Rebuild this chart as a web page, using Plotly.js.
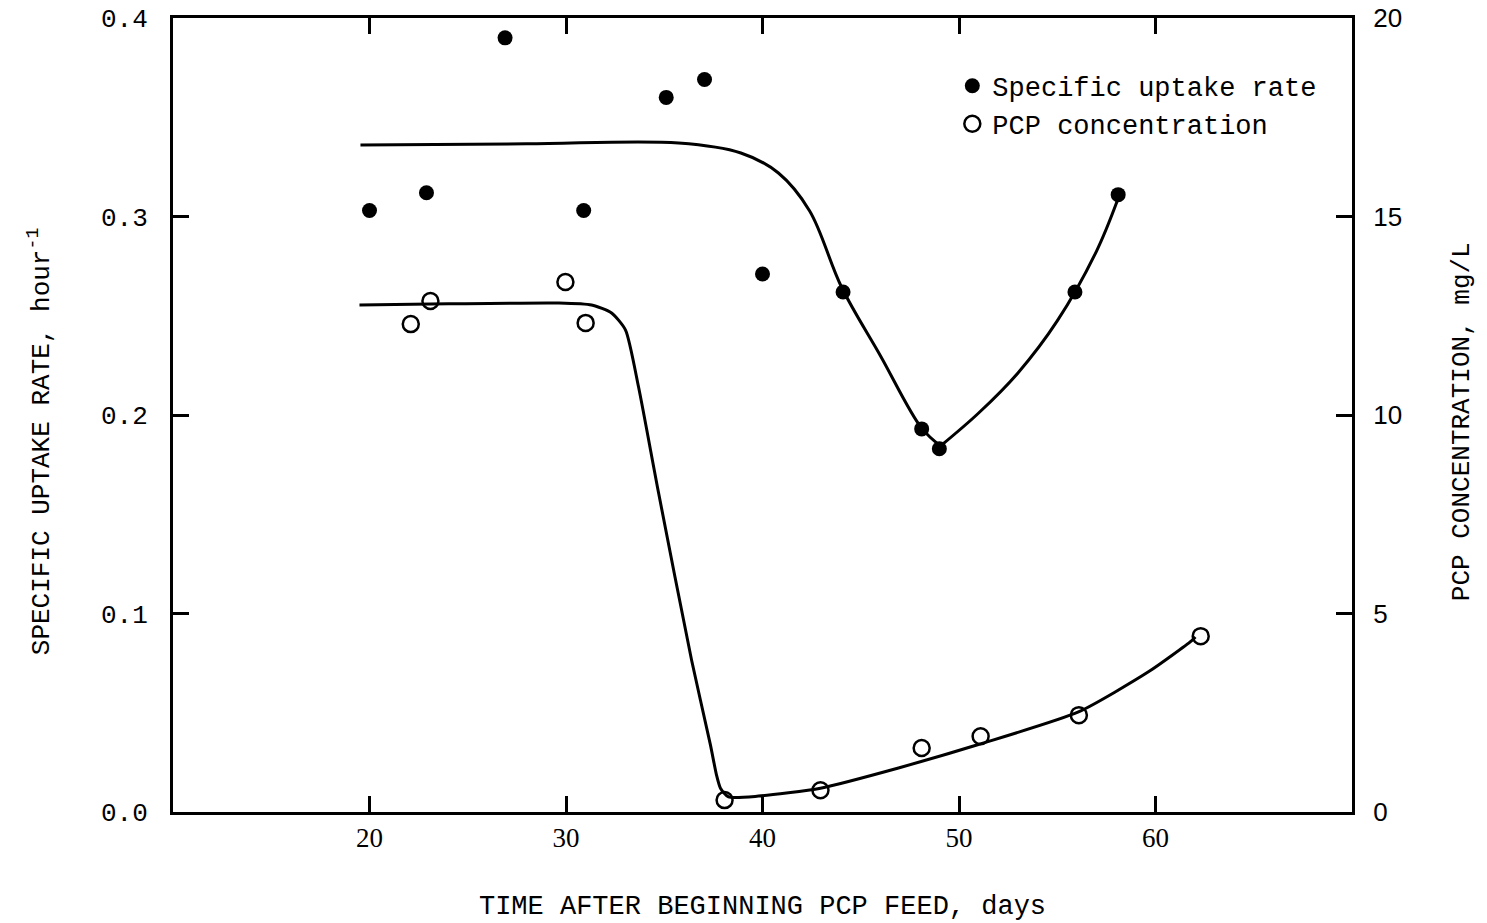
<!DOCTYPE html>
<html>
<head>
<meta charset="utf-8">
<script src="https://cdn.plot.ly/plotly-3.0.1.min.js"></script>
<style>
html, body { margin: 0; padding: 0; background: #fff; }
#chart { width: 1487px; height: 923px; }
</style>
</head>
<body>
<div id="chart"></div>
<script>
// Specific uptake rate (hour^-1), left axis
const uptakeDays = [20, 22.9, 26.9, 30.9, 35.1, 37.05, 40, 44.1, 48.1, 49.0, 55.9, 58.1];
const uptakeRate = [0.303, 0.312, 0.390, 0.303, 0.360, 0.369, 0.271, 0.262, 0.193, 0.183, 0.262, 0.311];

// PCP concentration (mg/L), right axis
const pcpDays = [22.1, 23.1, 29.97, 31.0, 38.07, 42.95, 48.1, 51.1, 56.1, 62.3];
const pcpConc = [12.29, 12.87, 13.35, 12.32, 0.30, 0.55, 1.61, 1.91, 2.44, 4.43];

// Fitted curve for uptake rate (falling part, then rising part)
const uptakeFitDays = [19.54, 28.0, 35.73, 38.9, 40.81, 42.4, 44.02, 46.0, 48.09, 49.06];
const uptakeFitRate = [0.336, 0.3366, 0.337, 0.332, 0.3219, 0.3028, 0.2645, 0.2299, 0.1935, 0.1844];
const uptakeFit2Days = [49.06, 51.0, 53.0, 55.0, 57.0, 58.07];
const uptakeFit2Rate = [0.1844, 0.2010, 0.2212, 0.2474, 0.2826, 0.3083];

// Fitted curve for PCP concentration
const pcpFitDays = [19.49, 24.02, 29.62, 31.30, 32.32, 33.03, 33.69, 34.71, 36.39, 37.35, 37.66, 37.86, 38.27, 39.80, 42.95, 46.92, 50.99, 56.08, 59.64, 61.83, 62.03];
const pcpFitConc = [12.77, 12.80, 12.82, 12.77, 12.57, 12.14, 10.71, 8.04, 3.83, 1.69, 0.93, 0.60, 0.38, 0.40, 0.60, 1.11, 1.70, 2.52, 3.53, 4.31, 4.41];

const xTicks = [20, 30, 40, 50, 60];
const yTicks = [0, 0.1, 0.2, 0.3, 0.4];
const y2Ticks = [0, 5, 10, 15, 20];

const mono = 'Liberation Mono, DejaVu Sans Mono, monospace';
const serif = 'Liberation Serif, DejaVu Serif, serif';
const sans = 'Liberation Sans, DejaVu Sans, sans-serif';

const curveLine = { color: '#000', width: 3, shape: 'spline', smoothing: 1 };

const traces = [
  { x: uptakeFitDays, y: uptakeFitRate, mode: 'lines', line: curveLine, showlegend: false, hoverinfo: 'skip' },
  { x: uptakeFit2Days, y: uptakeFit2Rate, mode: 'lines', line: curveLine, showlegend: false, hoverinfo: 'skip' },
  { x: pcpFitDays, y: pcpFitConc, yaxis: 'y2', mode: 'lines', line: { color: '#000', width: 3, shape: 'spline', smoothing: 0.6 }, showlegend: false, hoverinfo: 'skip' },
  { x: uptakeDays, y: uptakeRate, mode: 'markers', name: 'Specific uptake rate',
    marker: { symbol: 'circle', size: 15, color: '#000' } },
  { x: pcpDays, y: pcpConc, yaxis: 'y2', mode: 'markers', name: 'PCP concentration',
    marker: { symbol: 'circle-open', size: 16, color: '#000', line: { width: 2.5, color: '#000' } } }
];

const layout = {
  width: 1487, height: 923,
  paper_bgcolor: '#fff', plot_bgcolor: '#fff',
  margin: { l: 173, r: 135, t: 18, b: 111 },
  showlegend: true,
  legend: { x: 0.661, y: 0.945, xanchor: 'left', yanchor: 'top', bgcolor: 'rgba(0,0,0,0)',
            font: { family: mono, size: 27, color: '#000' }, tracegroupgap: 0, itemwidth: 30 },
  xaxis: {
    range: [10, 70], tickvals: xTicks, ticktext: xTicks.map(String),
    showgrid: false, zeroline: false, showline: true, linecolor: '#000', linewidth: 3,
    mirror: 'ticks', ticks: 'inside', ticklen: 16, tickwidth: 3, tickcolor: '#000',
    tickfont: { family: serif, size: 27, color: '#000' },
    title: { text: 'TIME AFTER BEGINNING PCP FEED, days', font: { family: mono, size: 27, color: '#000' }, standoff: 43 }
  },
  yaxis: {
    range: [0, 0.4], tickvals: yTicks, ticktext: yTicks.map(v => v.toFixed(1)),
    showgrid: false, zeroline: false, showline: true, linecolor: '#000', linewidth: 3,
    ticks: 'inside', ticklen: 16, tickwidth: 3, tickcolor: '#000',
    tickfont: { family: mono, size: 26, color: '#000' }, ticklabelstandoff: 17
  },
  yaxis2: {
    overlaying: 'y', side: 'right',
    range: [0, 20], tickvals: y2Ticks, ticktext: y2Ticks.map(String),
    showgrid: false, zeroline: false, showline: true, linecolor: '#000', linewidth: 3,
    ticks: 'inside', ticklen: 16, tickwidth: 3, tickcolor: '#000',
    tickfont: { family: sans, size: 26, color: '#000' }, ticklabelstandoff: 13
  },
  annotations: [
    { text: 'SPECIFIC UPTAKE RATE, hour<sup>-1</sup>', xref: 'paper', yref: 'paper',
      x: -0.1128, y: 0.467, xanchor: 'center', yanchor: 'middle', textangle: -90, showarrow: false,
      font: { family: mono, size: 26, color: '#000' } },
    { text: 'PCP CONCENTRATION, mg/L', xref: 'paper', yref: 'paper',
      x: 1.0933, y: 0.491, xanchor: 'center', yanchor: 'middle', textangle: -90, showarrow: false,
      font: { family: mono, size: 26, color: '#000' } }
  ]
};

Plotly.newPlot('chart', traces, layout, { staticPlot: true, displayModeBar: false });
</script>
</body>
</html>
